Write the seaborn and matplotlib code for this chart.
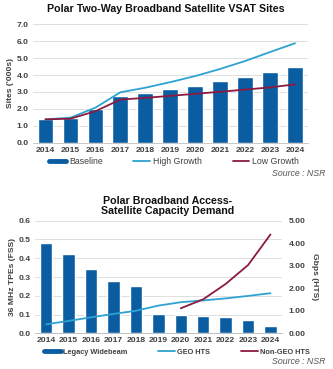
import numpy as np
import pandas as pd
import matplotlib
matplotlib.use("Agg")
import matplotlib.pyplot as plt
import seaborn as sns
from matplotlib.lines import Line2D

years = ["2014", "2015", "2016", "2017", "2018", "2019", "2020", "2021", "2022", "2023", "2024"]
baseline = [1.40, 1.44, 1.98, 2.74, 2.93, 3.15, 3.37, 3.63, 3.91, 4.16, 4.48]
high_growth = [1.38, 1.48, 2.07, 2.98, 3.25, 3.58, 3.94, 4.36, 4.83, 5.36, 5.88]
low_growth = [1.38, 1.42, 1.86, 2.55, 2.65, 2.77, 2.89, 3.01, 3.14, 3.27, 3.45]

legacy_widebeam = [0.48, 0.42, 0.345, 0.28, 0.25, 0.105, 0.10, 0.092, 0.085, 0.071, 0.037]
geo_hts = [0.40, 0.55, 0.71, 0.86, 1.00, 1.23, 1.38, 1.46, 1.55, 1.66, 1.78]
non_geo_hts = [np.nan, np.nan, np.nan, np.nan, np.nan, np.nan, 1.11, 1.51, 2.19, 3.03, 4.39]

BAR = "#0B5DA2"
LIGHT = "#2EA3D1"
RED = "#8C1A3F"
GRID = "#D9D9D9"
TXT = "#404040"
TICK = 6.1
LW = 1.3

sns.set_theme(style="white")
plt.rcParams["font.family"] = ["Liberation Sans", "DejaVu Sans"]

W, H = 333, 369
fig = plt.figure(figsize=(W / 100, H / 100), dpi=100)

def frac(left, top, right, bottom):
    return [left / W, 1 - bottom / H, (right - left) / W, (bottom - top) / H]

df1 = pd.DataFrame({"year": years, "Baseline": baseline, "High": high_growth, "Low": low_growth})
df1["pos"] = np.arange(len(years))

# ---------------- top chart ----------------
ax1 = fig.add_axes(frac(33, 24.3, 307.5, 142.7))
sns.barplot(data=df1, x="year", y="Baseline", color=BAR, width=0.63, saturation=1, ax=ax1, zorder=2)
sns.lineplot(data=df1, x="pos", y="High", color=LIGHT, lw=LW, ax=ax1, zorder=3)
sns.lineplot(data=df1, x="pos", y="Low", color=RED, lw=LW, ax=ax1, zorder=3)
ax1.set_ylim(0, 7)
ax1.set_yticks(np.arange(0, 7.01, 1.0))
ax1.set_yticklabels([f"{v:.1f}" for v in np.arange(0, 7.01, 1.0)])
ax1.set_xlim(-0.5, len(years) - 0.5)
ax1.set_xticks(range(len(years)))
ax1.set_xticklabels(years)
ax1.yaxis.grid(True, color=GRID, lw=0.6, zorder=0)
ax1.set_axisbelow(True)
for s in ["top", "right", "left"]:
    ax1.spines[s].set_visible(False)
ax1.spines["bottom"].set_color("#BFBFBF")
ax1.spines["bottom"].set_linewidth(0.6)
ax1.tick_params(axis="both", length=0, pad=3, labelsize=TICK, labelcolor=TXT)
for lab in ax1.get_xticklabels() + ax1.get_yticklabels():
    lab.set_fontweight("bold")
ax1.set_xlabel("")
ax1.set_ylabel("Sites ('000s)", fontsize=TICK, fontweight="bold", color=TXT, labelpad=2)
fig.text(166 / W, 1 - 9 / H, "Polar Two-Way Broadband Satellite VSAT Sites",
         ha="center", va="center", fontsize=7.7, fontweight="bold", color="#111111")

h1 = [Line2D([], [], color=BAR, lw=3.5), Line2D([], [], color=LIGHT, lw=LW), Line2D([], [], color=RED, lw=LW)]
fig.legend(h1, ["Baseline", "High Growth", "Low Growth"], loc="center left",
           bbox_to_anchor=(45 / W, 1 - 162 / H), ncol=3, frameon=False, fontsize=6.3,
           handlelength=1.9, handletextpad=0.35, columnspacing=3.5, borderpad=0, labelcolor=TXT)
fig.text(326 / W, 1 - 173 / H, "Source : NSR", ha="right", va="center",
         fontsize=6.3, style="italic", color="#555555")

# ---------------- bottom chart ----------------
df2 = pd.DataFrame({"year": years, "Legacy": legacy_widebeam, "GEO": geo_hts, "NGEO": non_geo_hts})
df2["pos"] = np.arange(len(years))

ax2 = fig.add_axes(frac(35, 220.7, 281.7, 333.3))
sns.barplot(data=df2, x="year", y="Legacy", color=BAR, width=0.55, saturation=1, ax=ax2, zorder=2)
ax2.set_ylim(0, 0.6)
ax2.set_yticks(np.arange(0, 0.61, 0.1))
ax2.set_yticklabels([f"{v:.1f}" for v in np.arange(0, 0.61, 0.1)])
ax2.set_xlim(-0.5, len(years) - 0.5)
ax2.set_xticks(range(len(years)))
ax2.set_xticklabels(years)
ax2.yaxis.grid(True, color=GRID, lw=0.6, zorder=0)
ax2.set_axisbelow(True)
ax2.set_xlabel("")
ax2.set_ylabel("36 MHz TPEs (FSS)", fontsize=TICK, fontweight="bold", color=TXT, labelpad=2)

ax3 = ax2.twinx()
sns.lineplot(data=df2, x="pos", y="GEO", color=LIGHT, lw=LW, ax=ax3)
sns.lineplot(data=df2, x="pos", y="NGEO", color=RED, lw=LW, ax=ax3)
ax3.set_ylim(0, 5)
ax3.set_yticks(np.arange(0, 5.01, 1.0))
ax3.set_yticklabels([f"{v:.2f}" for v in np.arange(0, 5.01, 1.0)])
ax3.set_xlim(-0.5, len(years) - 0.5)
ax3.set_ylabel("Gbps (HTS)", fontsize=TICK, fontweight="bold", color=TXT, rotation=270, labelpad=9)
ax3.grid(False)

for a in (ax2, ax3):
    for s in ["top", "right", "left"]:
        a.spines[s].set_visible(False)
    a.spines["bottom"].set_color("#BFBFBF")
    a.spines["bottom"].set_linewidth(0.6)
    a.tick_params(axis="both", length=0, pad=3, labelsize=TICK, labelcolor=TXT)
    for lab in a.get_xticklabels() + a.get_yticklabels():
        lab.set_fontweight("bold")
ax3.tick_params(axis="y", pad=5)

fig.text(168 / W, 1 - 206 / H, "Polar Broadband Access-\nSatellite Capacity Demand",
         ha="center", va="center", fontsize=7.7, fontweight="bold", color="#111111",
         linespacing=1.1)

h2 = [Line2D([], [], color=BAR, lw=3.5), Line2D([], [], color=LIGHT, lw=LW), Line2D([], [], color=RED, lw=LW)]
leg2 = fig.legend(h2, ["Legacy Widebeam", "GEO HTS", "Non-GEO HTS"], loc="center left",
                  bbox_to_anchor=(40 / W, 1 - 352 / H), ncol=3, frameon=False, fontsize=5.3,
                  handlelength=2.3, handletextpad=0.3, columnspacing=4.2, borderpad=0, labelcolor=TXT)
for t in leg2.get_texts():
    t.set_fontweight("bold")
fig.text(326 / W, 1 - 362 / H, "Source : NSR", ha="right", va="center",
         fontsize=6.3, style="italic", color="#555555")

fig.savefig("out.png", dpi=100, facecolor="white")
